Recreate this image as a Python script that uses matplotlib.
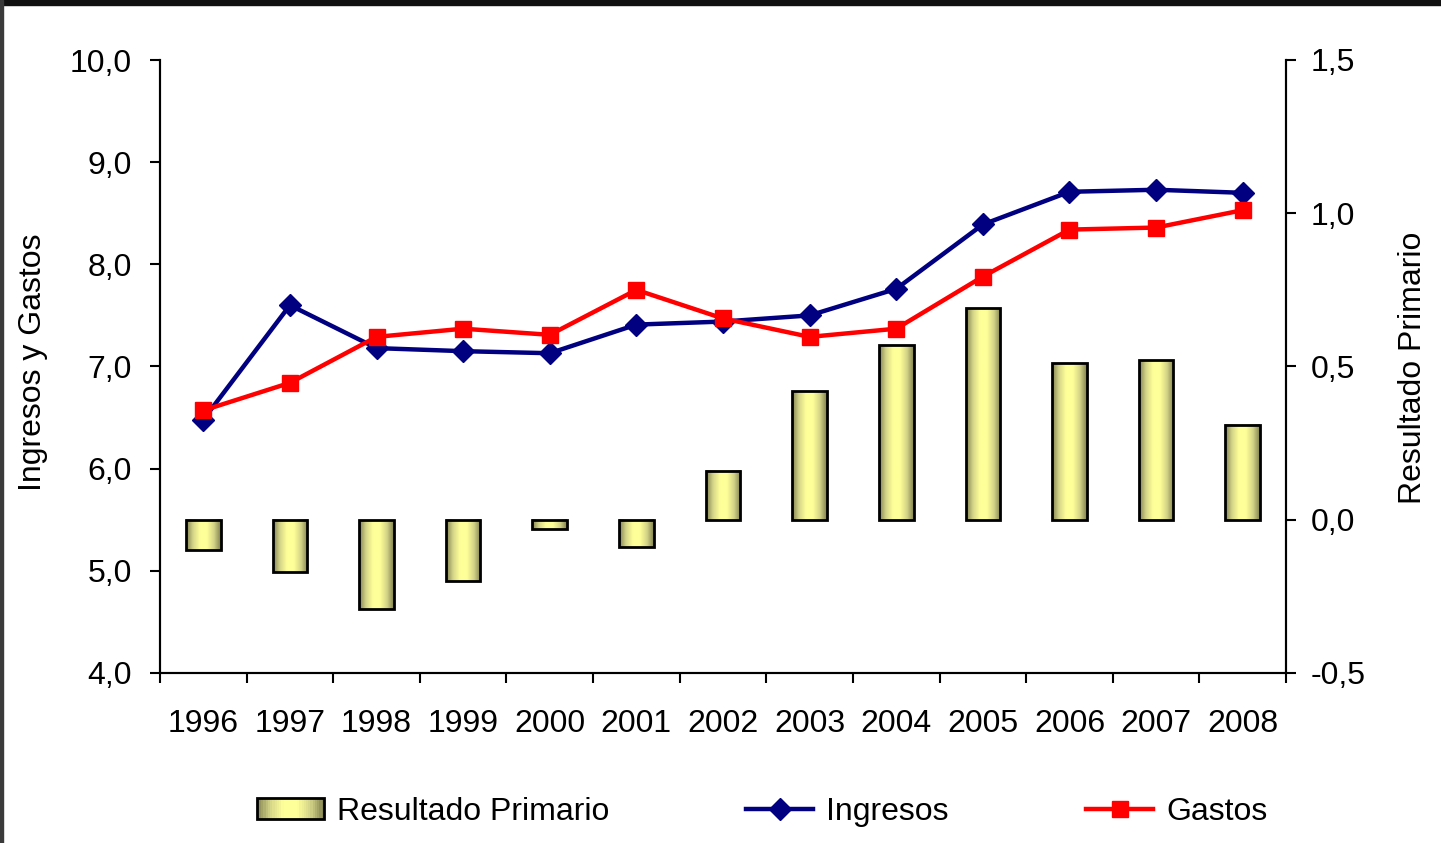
import matplotlib.pyplot as plt
import matplotlib.patches as mpatches
from matplotlib.legend_handler import HandlerBase
from matplotlib.colors import LinearSegmentedColormap
from matplotlib.lines import Line2D
import numpy as np

# data
years = ['1996', '1997', '1998', '1999', '2000', '2001', '2002',
         '2003', '2004', '2005', '2006', '2007', '2008']
ingresos = [6.48, 7.60, 7.18, 7.15, 7.13, 7.41, 7.44, 7.50, 7.76, 8.39, 8.71, 8.73, 8.70]
gastos = [6.57, 6.84, 7.29, 7.37, 7.31, 7.75, 7.47, 7.29, 7.37, 7.88, 8.34, 8.36, 8.53]
resultado = [-0.10, -0.17, -0.29, -0.20, -0.03, -0.09, 0.16, 0.42, 0.57, 0.69, 0.51, 0.52, 0.31]

left_ticks = [4, 5, 6, 7, 8, 9, 10]
right_ticks = [-0.5, 0.0, 0.5, 1.0, 1.5]

plt.rcParams['font.family'] = ['Liberation Sans', 'DejaVu Sans']
FS = 23

bar_cmap = LinearSegmentedColormap.from_list(
    'olive', ['#80804f', '#d4d488', '#ffff99', '#ffff99', '#d4d488', '#80804f'])


def comma(v):
    return f'{v:.1f}'.replace('.', ',')


class GradientHandler(HandlerBase):
    def create_artists(self, legend, orig_handle, xdescent, ydescent,
                       width, height, fontsize, trans):
        arts = []
        n = 30
        for i in range(n):
            r = mpatches.Rectangle((-xdescent + width * i / n, -ydescent),
                                   width / n + 0.3, height,
                                   facecolor=bar_cmap((i + 0.5) / n),
                                   edgecolor='none', transform=trans)
            arts.append(r)
        arts.append(mpatches.Rectangle((-xdescent, -ydescent), width, height,
                                       facecolor='none', edgecolor='black',
                                       lw=2, transform=trans))
        return arts


fig = plt.figure(figsize=(14.41, 8.43), dpi=100)
ax1 = fig.add_axes([160 / 1441, 1 - 673 / 843, (1286 - 160) / 1441, (673 - 60) / 843])
ax2 = ax1.twinx()

x = np.arange(len(years))

# bars with horizontal gradient fill
bars = ax2.bar(x, resultado, width=0.4, color='none', edgecolor='black', lw=2, zorder=3)
grad = np.linspace(0, 1, 256).reshape(1, -1)
for b in bars:
    x0, y0 = b.get_x(), b.get_y()
    ax2.imshow(grad, cmap=bar_cmap, aspect='auto', zorder=2,
               extent=[x0, x0 + b.get_width(), y0, y0 + b.get_height()])

ax2.set_ylim(-0.5, 1.5)
ax2.set_yticks(right_ticks)
ax2.set_yticklabels([comma(v) for v in right_ticks], fontsize=FS)

ax1.plot(x, ingresos, color='#000080', lw=3.2, marker='D', ms=11.5, zorder=5)
ax1.plot(x, gastos, color='#ff0000', lw=3.2, marker='s', ms=11, zorder=6)
ax1.set_zorder(ax2.get_zorder() + 1)
ax1.patch.set_visible(False)

ax1.set_ylim(4, 10)
ax1.set_yticks(left_ticks)
ax1.set_yticklabels([comma(v) for v in left_ticks], fontsize=FS)

ax1.set_xlim(-0.5, len(years) - 0.5)
ax1.set_xticks(np.arange(-0.5, len(years)))
ax1.set_xticklabels([])
ax1.set_xticks(x, minor=True)
ax1.set_xticklabels(years, minor=True, fontsize=FS)
ax1.tick_params(axis='x', which='minor', length=0, pad=26)
ax1.tick_params(axis='x', which='major', length=7, width=1.5)
ax1.tick_params(axis='y', length=7, width=1.5, pad=13)
ax2.tick_params(axis='y', length=7, width=1.5, pad=11)

for a in (ax1, ax2):
    a.spines['top'].set_visible(False)
    for s in ('left', 'right', 'bottom'):
        a.spines[s].set_linewidth(1.5)

# axis titles
fig.text(33 / 1441, 1 - 362 / 843, 'Ingresos y Gastos', rotation=90,
         ha='center', va='center', fontsize=FS)
fig.text(1413 / 1441, 1 - 368 / 843, 'Resultado Primario', rotation=90,
         ha='center', va='center', fontsize=FS)

handles = [
    mpatches.Rectangle((0, 0), 1, 1),
    Line2D([], [], color='#000080', lw=3.2, marker='D', ms=11.5),
    Line2D([], [], color='#ff0000', lw=3.2, marker='s', ms=11),
]
fig.legend(handles, ['Resultado Primario', 'Ingresos', 'Gastos'],
           handler_map={mpatches.Rectangle: GradientHandler()},
           loc='center', bbox_to_anchor=(762 / 1441, 1 - 812 / 843), ncol=3,
           frameon=False, fontsize=FS, handlelength=2.1, handleheight=0.65,
           columnspacing=4.3, handletextpad=0.4)

# dark slide frame around the screenshot
fig.add_artist(mpatches.Rectangle((0, 1 - 5 / 843), 1, 5 / 843, color='#111111',
                                  transform=fig.transFigure))
fig.add_artist(mpatches.Rectangle((0, 0), 3 / 1441, 1, color='#3a3a3a',
                                  transform=fig.transFigure))

fig.savefig('out.png', dpi=100)
